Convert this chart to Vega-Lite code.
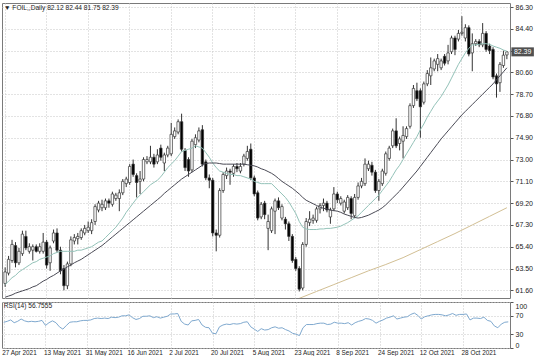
{
"$schema": "https://vega.github.io/schema/vega-lite/v6.json",
"padding": {"left": 1, "top": 2, "right": 0, "bottom": 0},
"background": "white",
"spacing": 1,
"config": {
 "view": {"stroke": "#7a7a7a", "strokeWidth": 1},
 "axis": {"labelFont": "Liberation Sans", "labelFontSize": 7, "labelColor": "#222222", "gridColor": "#c6c6c6", "gridDash": [1, 2], "gridWidth": 1, "tickColor": "#555555", "labelOverlap": false},
 "title": {"font": "Liberation Sans", "fontSize": 6.6, "fontWeight": "normal", "color": "#222222", "anchor": "start"}
},
"data": {"values": [
{"d":"27 Apr 2021","o":62.2,"h":63.6,"l":61.9,"c":63.2,"m1":62.1,"m2":61.0,"r":55.8},
{"d":"28 Apr 2021","o":63.1,"h":64.6,"l":62.9,"c":64.3,"m1":62.4,"m2":61.1,"r":58},
{"d":"29 Apr 2021","o":64.2,"h":66.0,"l":64.0,"c":65.6,"m1":62.7,"m2":61.2,"r":61},
{"d":"30 Apr 2021","o":65.5,"h":65.8,"l":63.6,"c":64.0,"m1":62.9,"m2":61.35,"r":55},
{"d":"3 May 2021","o":64.0,"h":65.3,"l":63.8,"c":65.0,"m1":63.2,"m2":61.45,"r":58},
{"d":"4 May 2021","o":64.8,"h":66.8,"l":64.6,"c":66.5,"m1":63.4,"m2":61.55,"r":63},
{"d":"5 May 2021","o":66.3,"h":66.8,"l":65.1,"c":65.3,"m1":63.6,"m2":61.65,"r":59},
{"d":"6 May 2021","o":65.0,"h":65.7,"l":64.8,"c":65.4,"m1":63.8,"m2":61.75,"r":57},
{"d":"7 May 2021","o":65.1,"h":65.6,"l":64.2,"c":65.4,"m1":64.0,"m2":61.9,"r":58},
{"d":"10 May 2021","o":65.4,"h":65.6,"l":64.9,"c":65.0,"m1":64.1,"m2":62.0,"r":57},
{"d":"11 May 2021","o":65.0,"h":65.7,"l":64.8,"c":65.4,"m1":64.3,"m2":62.2,"r":58},
{"d":"12 May 2021","o":65.0,"h":66.6,"l":64.8,"c":65.8,"m1":64.4,"m2":62.4,"r":60},
{"d":"13 May 2021","o":65.8,"h":66.0,"l":63.5,"c":63.8,"m1":64.5,"m2":62.55,"r":49},
{"d":"14 May 2021","o":64.0,"h":65.5,"l":63.3,"c":65.3,"m1":64.6,"m2":62.75,"r":55},
{"d":"17 May 2021","o":65.9,"h":66.9,"l":65.7,"c":66.6,"m1":64.8,"m2":62.9,"r":59},
{"d":"18 May 2021","o":66.6,"h":67.0,"l":64.9,"c":65.1,"m1":64.9,"m2":63.1,"r":55},
{"d":"19 May 2021","o":65.1,"h":65.4,"l":63.0,"c":63.3,"m1":65.0,"m2":63.3,"r":46},
{"d":"20 May 2021","o":63.5,"h":63.8,"l":61.6,"c":62.0,"m1":65.0,"m2":63.45,"r":41},
{"d":"21 May 2021","o":62.0,"h":64.1,"l":61.7,"c":63.9,"m1":65.0,"m2":63.65,"r":49},
{"d":"24 May 2021","o":63.9,"h":66.3,"l":63.7,"c":66.0,"m1":65.0,"m2":63.8,"r":56},
{"d":"25 May 2021","o":65.9,"h":66.5,"l":65.6,"c":66.2,"m1":65.0,"m2":64.0,"r":57},
{"d":"26 May 2021","o":66.1,"h":66.6,"l":65.6,"c":66.3,"m1":65.1,"m2":64.15,"r":57},
{"d":"27 May 2021","o":66.2,"h":67.0,"l":66.0,"c":66.8,"m1":65.1,"m2":64.3,"r":59},
{"d":"28 May 2021","o":66.6,"h":67.3,"l":66.4,"c":67.0,"m1":65.2,"m2":64.5,"r":60},
{"d":"31 May 2021","o":66.8,"h":67.6,"l":66.6,"c":67.1,"m1":65.3,"m2":64.7,"r":60},
{"d":"1 Jun 2021","o":66.8,"h":67.8,"l":66.5,"c":67.5,"m1":65.4,"m2":64.9,"r":61},
{"d":"2 Jun 2021","o":67.6,"h":69.1,"l":67.3,"c":68.9,"m1":65.6,"m2":65.1,"r":64},
{"d":"3 Jun 2021","o":68.6,"h":69.4,"l":68.4,"c":69.2,"m1":65.8,"m2":65.3,"r":65},
{"d":"4 Jun 2021","o":68.8,"h":69.5,"l":68.5,"c":69.1,"m1":65.9,"m2":65.5,"r":64},
{"d":"7 Jun 2021","o":68.8,"h":69.6,"l":68.6,"c":69.4,"m1":66.2,"m2":65.75,"r":65},
{"d":"8 Jun 2021","o":69.4,"h":69.6,"l":68.8,"c":69.2,"m1":66.5,"m2":66.0,"r":64},
{"d":"9 Jun 2021","o":69.1,"h":70.2,"l":68.9,"c":70.0,"m1":66.8,"m2":66.25,"r":67},
{"d":"10 Jun 2021","o":69.6,"h":70.1,"l":69.4,"c":69.9,"m1":67.1,"m2":66.5,"r":66},
{"d":"11 Jun 2021","o":69.6,"h":70.4,"l":68.5,"c":70.1,"m1":67.5,"m2":66.75,"r":67},
{"d":"14 Jun 2021","o":70.1,"h":71.3,"l":69.9,"c":71.1,"m1":67.9,"m2":67.0,"r":70},
{"d":"15 Jun 2021","o":70.9,"h":71.5,"l":70.6,"c":71.3,"m1":68.4,"m2":67.25,"r":70},
{"d":"16 Jun 2021","o":71.0,"h":72.6,"l":70.8,"c":72.4,"m1":68.8,"m2":67.5,"r":72},
{"d":"17 Jun 2021","o":72.6,"h":73.0,"l":71.5,"c":71.7,"m1":69.2,"m2":67.75,"r":66},
{"d":"18 Jun 2021","o":71.6,"h":71.8,"l":69.7,"c":71.0,"m1":69.6,"m2":68.0,"r":62},
{"d":"21 Jun 2021","o":71.1,"h":72.0,"l":70.0,"c":71.3,"m1":69.9,"m2":68.25,"r":64},
{"d":"22 Jun 2021","o":71.3,"h":73.2,"l":71.1,"c":73.0,"m1":70.2,"m2":68.5,"r":69},
{"d":"23 Jun 2021","o":72.8,"h":73.3,"l":72.6,"c":73.0,"m1":70.5,"m2":68.75,"r":69},
{"d":"24 Jun 2021","o":72.8,"h":74.2,"l":72.6,"c":73.2,"m1":70.8,"m2":69.0,"r":70},
{"d":"25 Jun 2021","o":73.2,"h":73.5,"l":72.3,"c":72.6,"m1":71.0,"m2":69.25,"r":66},
{"d":"28 Jun 2021","o":72.8,"h":73.9,"l":72.6,"c":73.4,"m1":71.2,"m2":69.5,"r":68},
{"d":"29 Jun 2021","o":74.0,"h":74.3,"l":72.9,"c":73.2,"m1":71.5,"m2":69.75,"r":65},
{"d":"30 Jun 2021","o":72.7,"h":73.6,"l":72.0,"c":73.4,"m1":71.9,"m2":70.05,"r":67},
{"d":"1 Jul 2021","o":73.4,"h":74.2,"l":73.2,"c":74.0,"m1":72.3,"m2":70.3,"r":69},
{"d":"2 Jul 2021","o":73.5,"h":76.2,"l":73.3,"c":75.2,"m1":72.6,"m2":70.55,"r":74},
{"d":"5 Jul 2021","o":75.0,"h":75.8,"l":74.8,"c":75.5,"m1":72.9,"m2":70.8,"r":74},
{"d":"6 Jul 2021","o":75.4,"h":76.5,"l":75.2,"c":76.3,"m1":73.3,"m2":71.05,"r":75},
{"d":"7 Jul 2021","o":76.3,"h":77.0,"l":73.7,"c":73.9,"m1":73.7,"m2":71.3,"r":58},
{"d":"8 Jul 2021","o":73.8,"h":74.0,"l":72.0,"c":72.3,"m1":73.8,"m2":71.5,"r":52},
{"d":"9 Jul 2021","o":73.0,"h":73.2,"l":71.5,"c":72.0,"m1":73.9,"m2":71.7,"r":50},
{"d":"12 Jul 2021","o":72.1,"h":74.8,"l":71.9,"c":74.6,"m1":74.0,"m2":71.9,"r":59},
{"d":"13 Jul 2021","o":74.3,"h":75.2,"l":74.0,"c":74.9,"m1":74.2,"m2":72.1,"r":60},
{"d":"14 Jul 2021","o":74.7,"h":75.8,"l":74.5,"c":75.5,"m1":74.1,"m2":72.3,"r":62},
{"d":"15 Jul 2021","o":75.6,"h":76.0,"l":72.4,"c":72.6,"m1":74.0,"m2":72.5,"r":50},
{"d":"16 Jul 2021","o":72.8,"h":73.0,"l":71.2,"c":71.4,"m1":73.6,"m2":72.65,"r":45},
{"d":"19 Jul 2021","o":71.4,"h":71.7,"l":70.5,"c":71.2,"m1":73.2,"m2":72.7,"r":44},
{"d":"20 Jul 2021","o":71.2,"h":71.4,"l":66.3,"c":66.6,"m1":72.7,"m2":72.7,"r":32},
{"d":"21 Jul 2021","o":66.6,"h":66.9,"l":65.0,"c":66.4,"m1":72.3,"m2":72.7,"r":31},
{"d":"22 Jul 2021","o":66.4,"h":70.5,"l":66.2,"c":70.3,"m1":72.0,"m2":72.65,"r":46},
{"d":"23 Jul 2021","o":70.3,"h":71.9,"l":70.1,"c":71.7,"m1":71.9,"m2":72.6,"r":50},
{"d":"26 Jul 2021","o":71.6,"h":72.3,"l":71.3,"c":72.0,"m1":71.8,"m2":72.6,"r":52},
{"d":"27 Jul 2021","o":72.0,"h":72.2,"l":70.8,"c":71.9,"m1":71.7,"m2":72.6,"r":51},
{"d":"28 Jul 2021","o":71.8,"h":72.6,"l":71.5,"c":72.4,"m1":71.7,"m2":72.6,"r":53},
{"d":"29 Jul 2021","o":72.4,"h":72.7,"l":71.9,"c":72.2,"m1":71.6,"m2":72.6,"r":52},
{"d":"30 Jul 2021","o":72.0,"h":72.7,"l":71.8,"c":72.4,"m1":71.6,"m2":72.6,"r":53},
{"d":"2 Aug 2021","o":72.6,"h":73.5,"l":72.4,"c":73.3,"m1":71.5,"m2":72.6,"r":56},
{"d":"3 Aug 2021","o":73.1,"h":74.2,"l":72.9,"c":73.7,"m1":71.4,"m2":72.55,"r":57},
{"d":"4 Aug 2021","o":73.9,"h":74.4,"l":71.2,"c":71.4,"m1":71.3,"m2":72.5,"r":46},
{"d":"5 Aug 2021","o":71.4,"h":71.6,"l":69.8,"c":70.0,"m1":71.1,"m2":72.45,"r":41},
{"d":"6 Aug 2021","o":70.1,"h":70.3,"l":67.7,"c":67.9,"m1":71.0,"m2":72.35,"r":36},
{"d":"9 Aug 2021","o":68.0,"h":69.3,"l":67.8,"c":69.1,"m1":70.9,"m2":72.2,"r":42},
{"d":"10 Aug 2021","o":69.2,"h":69.4,"l":67.8,"c":68.2,"m1":70.9,"m2":72.1,"r":39},
{"d":"11 Aug 2021","o":67.0,"h":68.2,"l":65.1,"c":67.6,"m1":70.9,"m2":71.95,"r":40},
{"d":"12 Aug 2021","o":66.8,"h":68.9,"l":66.6,"c":68.7,"m1":70.9,"m2":71.8,"r":44},
{"d":"13 Aug 2021","o":68.5,"h":69.6,"l":66.5,"c":69.4,"m1":70.6,"m2":71.6,"r":46},
{"d":"16 Aug 2021","o":69.4,"h":69.7,"l":68.6,"c":68.8,"m1":70.3,"m2":71.35,"r":43},
{"d":"17 Aug 2021","o":67.9,"h":69.1,"l":67.7,"c":68.9,"m1":70.0,"m2":71.1,"r":44,"m3":60.4},
{"d":"18 Aug 2021","o":67.8,"h":68.0,"l":66.9,"c":67.4,"m1":69.7,"m2":70.9,"r":40},
{"d":"19 Aug 2021","o":67.4,"h":67.6,"l":65.9,"c":66.3,"m1":69.3,"m2":70.7,"r":37},
{"d":"20 Aug 2021","o":66.3,"h":66.5,"l":64.0,"c":64.2,"m1":68.8,"m2":70.5,"r":32},
{"d":"23 Aug 2021","o":64.3,"h":64.5,"l":63.3,"c":63.5,"m1":68.3,"m2":70.25,"r":30},
{"d":"24 Aug 2021","o":63.5,"h":63.7,"l":61.5,"c":61.7,"m1":67.6,"m2":70.0,"r":27,"m3":60.9},
{"d":"25 Aug 2021","o":61.8,"h":65.8,"l":61.6,"c":65.6,"m1":67.1,"m2":69.7,"r":44},
{"d":"26 Aug 2021","o":65.6,"h":67.9,"l":65.4,"c":67.6,"m1":66.95,"m2":69.45,"r":51},
{"d":"27 Aug 2021","o":67.5,"h":68.5,"l":67.2,"c":67.8,"m1":66.9,"m2":69.3,"r":51},
{"d":"30 Aug 2021","o":67.7,"h":68.2,"l":67.4,"c":67.9,"m1":66.9,"m2":69.15,"r":51},
{"d":"31 Aug 2021","o":67.7,"h":68.9,"l":67.5,"c":68.7,"m1":66.9,"m2":69.0,"r":53,"m3":61.5},
{"d":"1 Sep 2021","o":68.7,"h":69.2,"l":68.3,"c":69.0,"m1":66.95,"m2":68.85,"r":54},
{"d":"2 Sep 2021","o":69.0,"h":69.6,"l":68.5,"c":69.2,"m1":66.95,"m2":68.75,"r":54},
{"d":"3 Sep 2021","o":69.2,"h":69.4,"l":68.4,"c":68.6,"m1":67.0,"m2":68.7,"r":51},
{"d":"6 Sep 2021","o":68.0,"h":68.8,"l":67.4,"c":68.6,"m1":67.0,"m2":68.6,"r":52},
{"d":"7 Sep 2021","o":68.7,"h":70.6,"l":68.5,"c":70.0,"m1":67.05,"m2":68.55,"r":56,"m3":62.1},
{"d":"8 Sep 2021","o":70.0,"h":70.2,"l":69.2,"c":69.5,"m1":67.1,"m2":68.5,"r":54},
{"d":"9 Sep 2021","o":69.2,"h":69.8,"l":69.0,"c":69.6,"m1":67.2,"m2":68.4,"r":54},
{"d":"10 Sep 2021","o":68.5,"h":69.5,"l":68.3,"c":69.3,"m1":67.35,"m2":68.25,"r":53},
{"d":"13 Sep 2021","o":68.8,"h":69.9,"l":68.6,"c":69.7,"m1":67.5,"m2":68.15,"r":55},
{"d":"14 Sep 2021","o":69.6,"h":69.8,"l":67.8,"c":68.3,"m1":67.7,"m2":68.05,"r":50,"m3":62.7},
{"d":"15 Sep 2021","o":68.1,"h":70.0,"l":67.9,"c":69.7,"m1":67.9,"m2":67.95,"r":55},
{"d":"16 Sep 2021","o":69.7,"h":71.0,"l":69.5,"c":70.7,"m1":68.1,"m2":67.9,"r":58},
{"d":"17 Sep 2021","o":70.7,"h":71.4,"l":70.5,"c":71.1,"m1":68.4,"m2":67.95,"r":60},
{"d":"20 Sep 2021","o":70.9,"h":73.1,"l":70.7,"c":72.6,"m1":68.7,"m2":68.05,"r":64},
{"d":"21 Sep 2021","o":72.2,"h":72.9,"l":72.0,"c":72.6,"m1":69.0,"m2":68.15,"r":63,"m3":63.3},
{"d":"22 Sep 2021","o":72.5,"h":72.8,"l":71.6,"c":71.9,"m1":69.3,"m2":68.3,"r":60},
{"d":"23 Sep 2021","o":71.9,"h":72.1,"l":70.1,"c":70.3,"m1":69.6,"m2":68.45,"r":54},
{"d":"24 Sep 2021","o":70.3,"h":71.3,"l":69.4,"c":71.1,"m1":69.9,"m2":68.6,"r":58},
{"d":"27 Sep 2021","o":70.9,"h":72.2,"l":70.7,"c":72.0,"m1":70.3,"m2":68.8,"r":61},
{"d":"28 Sep 2021","o":71.8,"h":73.7,"l":71.6,"c":73.5,"m1":70.7,"m2":69.05,"r":65,"m3":63.85},
{"d":"29 Sep 2021","o":73.1,"h":74.2,"l":72.9,"c":74.0,"m1":71.1,"m2":69.35,"r":67},
{"d":"30 Sep 2021","o":74.2,"h":75.7,"l":74.0,"c":75.5,"m1":71.6,"m2":69.65,"r":70},
{"d":"1 Oct 2021","o":75.5,"h":76.6,"l":74.0,"c":74.2,"m1":72.1,"m2":69.95,"r":63},
{"d":"4 Oct 2021","o":74.4,"h":75.0,"l":73.8,"c":74.8,"m1":72.5,"m2":70.25,"r":65},
{"d":"5 Oct 2021","o":74.6,"h":75.9,"l":73.1,"c":75.1,"m1":73.0,"m2":70.6,"r":67,"m3":64.45},
{"d":"6 Oct 2021","o":75.0,"h":75.9,"l":74.8,"c":75.7,"m1":73.5,"m2":70.95,"r":68},
{"d":"7 Oct 2021","o":75.9,"h":77.9,"l":75.7,"c":77.7,"m1":74.0,"m2":71.3,"r":73},
{"d":"8 Oct 2021","o":77.7,"h":79.5,"l":77.5,"c":79.2,"m1":74.5,"m2":71.65,"r":76},
{"d":"11 Oct 2021","o":79.0,"h":79.7,"l":78.1,"c":78.3,"m1":75.0,"m2":72.0,"r":71},
{"d":"12 Oct 2021","o":79.0,"h":79.2,"l":74.9,"c":77.6,"m1":75.6,"m2":72.4,"r":63,"m3":65.15},
{"d":"13 Oct 2021","o":78.0,"h":79.8,"l":77.8,"c":79.6,"m1":76.1,"m2":72.8,"r":68},
{"d":"14 Oct 2021","o":79.6,"h":80.8,"l":79.4,"c":80.5,"m1":76.7,"m2":73.2,"r":70},
{"d":"15 Oct 2021","o":80.3,"h":81.9,"l":79.5,"c":81.0,"m1":77.2,"m2":73.6,"r":72},
{"d":"18 Oct 2021","o":80.9,"h":81.8,"l":80.7,"c":81.6,"m1":77.7,"m2":74.0,"r":73},
{"d":"19 Oct 2021","o":81.3,"h":82.2,"l":80.7,"c":81.8,"m1":78.1,"m2":74.4,"r":73,"m3":65.85},
{"d":"20 Oct 2021","o":81.0,"h":81.8,"l":80.8,"c":81.6,"m1":78.5,"m2":74.8,"r":72},
{"d":"21 Oct 2021","o":82.0,"h":82.2,"l":81.2,"c":81.4,"m1":79.0,"m2":75.15,"r":70},
{"d":"22 Oct 2021","o":81.6,"h":83.0,"l":81.3,"c":82.3,"m1":79.5,"m2":75.5,"r":72},
{"d":"25 Oct 2021","o":82.4,"h":83.8,"l":82.2,"c":83.6,"m1":80.1,"m2":75.85,"r":75},
{"d":"26 Oct 2021","o":83.6,"h":83.8,"l":82.1,"c":82.6,"m1":80.7,"m2":76.2,"r":71,"m3":66.55},
{"d":"27 Oct 2021","o":83.5,"h":84.3,"l":83.3,"c":84.0,"m1":81.3,"m2":76.55,"r":73},
{"d":"28 Oct 2021","o":84.0,"h":85.5,"l":83.8,"c":84.1,"m1":81.8,"m2":76.9,"r":73},
{"d":"29 Oct 2021","o":83.6,"h":84.8,"l":83.3,"c":84.5,"m1":82.3,"m2":77.2,"r":74},
{"d":"1 Nov 2021","o":84.5,"h":84.7,"l":82.0,"c":82.2,"m1":82.7,"m2":77.5,"r":61},
{"d":"2 Nov 2021","o":82.3,"h":84.0,"l":80.7,"c":83.1,"m1":83.0,"m2":77.8,"r":65,"m3":67.3},
{"d":"3 Nov 2021","o":83.1,"h":83.5,"l":82.9,"c":83.3,"m1":83.0,"m2":78.1,"r":65},
{"d":"4 Nov 2021","o":83.3,"h":83.5,"l":82.8,"c":83.0,"m1":83.05,"m2":78.4,"r":64},
{"d":"5 Nov 2021","o":83.0,"h":84.9,"l":82.8,"c":84.0,"m1":83.1,"m2":78.7,"r":67},
{"d":"8 Nov 2021","o":84.0,"h":84.2,"l":82.4,"c":82.6,"m1":83.1,"m2":79.0,"r":60},
{"d":"9 Nov 2021","o":82.9,"h":83.1,"l":82.2,"c":82.5,"m1":83.05,"m2":79.3,"r":58,"m3":68.05},
{"d":"10 Nov 2021","o":82.6,"h":82.8,"l":80.0,"c":80.2,"m1":82.9,"m2":79.6,"r":48},
{"d":"11 Nov 2021","o":80.3,"h":80.5,"l":78.4,"c":79.6,"m1":82.8,"m2":79.95,"r":44},
{"d":"12 Nov 2021","o":79.7,"h":81.5,"l":78.9,"c":81.3,"m1":82.7,"m2":80.3,"r":52},
{"d":"15 Nov 2021","o":81.2,"h":82.5,"l":81.0,"c":82.1,"m1":82.55,"m2":80.65,"r":56},
{"d":"16 Nov 2021","o":82.12,"h":82.44,"l":81.75,"c":82.39,"m1":82.45,"m2":81.0,"r":56.76,"m3":68.8}
]},
"vconcat": [
 {
  "width": 508, "height": 295,
  "title": {"text": "▼ FOIL,,Daily  82.12 82.44 81.75 82.39", "offset": -9, "baseline": "top", "dx": 2},
  "encoding": {
   "x": {"field": "d", "type": "ordinal", "sort": null,
         "scale": {"paddingInner": 0.3, "paddingOuter": 0.55},
         "axis": {"values": ["27 Apr 2021","13 May 2021","31 May 2021","16 Jun 2021","2 Jul 2021","20 Jul 2021","5 Aug 2021","23 Aug 2021","8 Sep 2021","24 Sep 2021","12 Oct 2021","28 Oct 2021"],
                  "labels": false, "ticks": false, "domain": false, "grid": true, "title": null, "minExtent": 0, "maxExtent": 0, "offset": 0}}
  },
  "layer": [
   {"mark": {"type": "rule", "color": "#333333", "strokeWidth": 1},
    "encoding": {
     "y": {"field": "l", "type": "quantitative", "scale": {"domain": [60.93, 86.65], "nice": false, "zero": false},
           "axis": {"orient": "right", "title": null, "domain": false, "grid": true, "tickSize": 3, "labelPadding": 2,
                    "labelOverlap": false, "labelBound": false, "labelFlush": false, "tickCount": 40,
                    "values": [61.6, 63.5, 65.4, 67.3, 69.2, 71.1, 73.0, 74.9, 76.8, 78.7, 80.6, 82.5, 84.4, 86.3],
                    "labelExpr": "datum.value == 82.5 ? '' : format(datum.value, '.2f')"}},
     "y2": {"field": "h"}}},
   {"mark": {"type": "bar", "stroke": "#333333", "strokeWidth": 0.7},
    "encoding": {
     "y": {"field": "o", "type": "quantitative"},
     "y2": {"field": "c"},
     "fill": {"condition": {"test": "datum.c >= datum.o", "value": "#ffffff"}, "value": "#000000"}}},
   {"mark": {"type": "line", "color": "#93c2b8", "strokeWidth": 1},
    "encoding": {"y": {"field": "m1", "type": "quantitative"}}},
   {"mark": {"type": "line", "color": "#4a4a55", "strokeWidth": 1},
    "encoding": {"y": {"field": "m2", "type": "quantitative"}}},
   {"transform": [{"filter": "isValid(datum.m3)"}],
    "mark": {"type": "line", "color": "#d2bf94", "strokeWidth": 1, "clip": true},
    "encoding": {"y": {"field": "m3", "type": "quantitative"}}},
   {"transform": [{"filter": "datum.d == '16 Nov 2021'"}],
    "mark": {"type": "point", "shape": "M0.45,-0.45H2.7V0.45H0.45Z", "size": 400, "filled": true, "color": "#505050", "opacity": 1, "strokeWidth": 0},
    "encoding": {"y": {"field": "c", "type": "quantitative"}}},
   {"transform": [{"filter": "datum.d == '16 Nov 2021'"}],
    "mark": {"type": "text", "align": "left", "baseline": "middle", "dx": 7, "color": "#ffffff", "fontSize": 7, "font": "Liberation Sans"},
    "encoding": {"y": {"field": "c", "type": "quantitative"}, "text": {"field": "c", "type": "quantitative", "format": ".2f"}}}
  ]
 },
 {
  "width": 508, "height": 46,
  "title": {"text": "RSI(14) 56.7555", "offset": -8, "baseline": "top", "dx": 2},
  "mark": {"type": "line", "color": "#7fa9cf", "strokeWidth": 1},
  "encoding": {
   "x": {"field": "d", "type": "ordinal", "sort": null,
         "scale": {"paddingInner": 0.3, "paddingOuter": 0.55},
         "axis": {"values": ["27 Apr 2021","13 May 2021","31 May 2021","16 Jun 2021","2 Jul 2021","20 Jul 2021","5 Aug 2021","23 Aug 2021","8 Sep 2021","24 Sep 2021","12 Oct 2021","28 Oct 2021"],
                  "labelAngle": 0, "labelAlign": "left", "labelOffset": -2, "labelPadding": 1, "tickSize": 0, "labelFontSize": 6.4,
                  "domain": false, "grid": true, "title": null, "labelBound": false}},
   "y": {"field": "r", "type": "quantitative", "scale": {"domain": [0, 100], "nice": false},
         "axis": {"orient": "right", "values": [0, 30, 70, 100], "labelFlush": true, "title": null, "domain": false,
                  "grid": true, "tickSize": 3, "labelPadding": 2, "tickCount": 10}}
  }
 }
]
}
